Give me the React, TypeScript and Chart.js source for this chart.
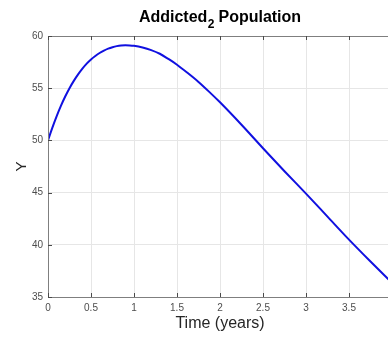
import React, { useEffect, useRef } from "react";
import { Chart, registerables } from "chart.js";

Chart.register(...registerables);

const timeYears = [0, 0.05, 0.1, 0.15, 0.2, 0.25, 0.3, 0.35, 0.4, 0.45, 0.5, 0.55, 0.6, 0.65, 0.7, 0.75, 0.8, 0.85, 0.9, 0.95, 1.0, 1.1, 1.2, 1.3, 1.4, 1.5, 1.625, 1.75, 1.875, 2.0, 2.25, 2.5, 2.75, 3.0, 3.25, 3.5, 3.75, 4.0];
const addicted2 = [50, 51.2, 52.3, 53.3, 54.2, 55.0, 55.7, 56.32, 56.87, 57.35, 57.75, 58.08, 58.37, 58.6, 58.79, 58.93, 59.03, 59.09, 59.11, 59.1, 59.06, 58.9, 58.65, 58.3, 57.8, 57.25, 56.45, 55.6, 54.65, 53.65, 51.5, 49.25, 47.05, 44.9, 42.7, 40.5, 38.4, 36.35];
const xTickRange = [0, 4];
const yTickRange = [35, 60];
const titleParts = ["Addicted", "2", " Population"];
const xTitle = "Time (years)";
const yTitle = "Y";

const FONT = "'Liberation Sans', Arial, sans-serif";

const boxPlugin = {
  id: "matlabBox",
  afterDatasetsDraw(chart: any) {
    const { ctx, chartArea } = chart;
    const { left, right, top, bottom } = chartArea;
    const xs = chart.scales.x;
    const ys = chart.scales.y;
    ctx.save();
    ctx.strokeStyle = "#7f7f7f";
    ctx.lineWidth = 1;
    ctx.beginPath();
    ctx.rect(Math.round(left) + 0.5, Math.round(top) + 0.5, Math.round(right - left), Math.round(bottom - top));
    ctx.stroke();
    ctx.strokeStyle = "#4a4a4a";
    ctx.beginPath();
    xs.ticks.forEach((t: any) => {
      const px = Math.round(xs.getPixelForValue(t.value)) + 0.5;
      ctx.moveTo(px, bottom);
      ctx.lineTo(px, bottom - 4);
      ctx.moveTo(px, top);
      ctx.lineTo(px, top + 4);
    });
    ys.ticks.forEach((t: any) => {
      const py = Math.round(ys.getPixelForValue(t.value)) + 0.5;
      ctx.moveTo(left, py);
      ctx.lineTo(left + 4, py);
      ctx.moveTo(right, py);
      ctx.lineTo(right - 4, py);
    });
    ctx.stroke();
    ctx.restore();
  },
  afterDraw(chart: any) {
    const { ctx, chartArea } = chart;
    const cx = (chartArea.left + chartArea.right) / 2;
    ctx.save();
    ctx.fillStyle = "#000000";
    ctx.textBaseline = "alphabetic";
    const big = `bold 16px ${FONT}`;
    const small = `bold 12px ${FONT}`;
    ctx.font = big;
    const w1 = ctx.measureText(titleParts[0]).width;
    const w3 = ctx.measureText(titleParts[2]).width;
    ctx.font = small;
    const w2 = ctx.measureText(titleParts[1]).width;
    const total = w1 + w2 + w3;
    let x = cx - total / 2;
    const base = 22;
    ctx.font = big;
    ctx.fillText(titleParts[0], x, base);
    x += w1;
    ctx.font = small;
    ctx.fillText(titleParts[1], x + 0.5, base + 6);
    x += w2;
    ctx.font = big;
    ctx.fillText(titleParts[2], x, base);
    ctx.restore();
  },
};

export default function App() {
  const ref = useRef<HTMLCanvasElement | null>(null);
  useEffect(() => {
    if (!ref.current) return;
    const chart = new Chart(ref.current, {
      type: "line",
      data: {
        datasets: [
          {
            label: "Addicted2",
            data: timeYears.map((t, i) => ({ x: t, y: addicted2[i] })),
            borderColor: "#1010e0",
            borderWidth: 2,
            pointRadius: 0,
            fill: false,
            cubicInterpolationMode: "monotone",
          },
        ],
      },
      plugins: [boxPlugin],
      options: {
        animation: false,
        responsive: false,
        maintainAspectRatio: false,
        layout: { padding: { top: 36, right: 8, left: 0, bottom: 0 } },
        plugins: { legend: { display: false }, title: { display: false }, tooltip: { enabled: false } },
        scales: {
          x: {
            type: "linear",
            min: xTickRange[0],
            max: xTickRange[1],
            border: { display: false },
            grid: { color: "#e6e6e6", drawTicks: false },
            ticks: { stepSize: 0.5, padding: 5, color: "#4d4d4d", font: { family: FONT, size: 10 }, maxRotation: 0, callback: (v: any) => `${v}` },
            title: { display: true, text: xTitle, color: "#262626", font: { family: FONT, size: 16 }, padding: { top: 0, bottom: 5 } },
            afterFit(scale: any) { scale.height = 41; },
          },
          y: {
            type: "linear",
            min: yTickRange[0],
            max: yTickRange[1],
            border: { display: false },
            grid: { color: "#e6e6e6", drawTicks: false },
            ticks: { stepSize: 5, padding: 5, color: "#4d4d4d", font: { family: FONT, size: 10 } },
            title: { display: true, text: yTitle, color: "#262626", font: { family: FONT, size: 15 }, padding: { top: 13, bottom: 0 } },
            afterFit(scale: any) { scale.width = 48; },
          },
        },
      },
    });
    return () => chart.destroy();
  }, []);
  return (
    <div style={{ position: "fixed", left: 0, top: 0, width: 388, height: 338, overflow: "hidden", background: "#ffffff" }}>
      <canvas ref={ref} width={400} height={338} style={{ display: "block", width: 400, height: 338 }} />
    </div>
  );
}
